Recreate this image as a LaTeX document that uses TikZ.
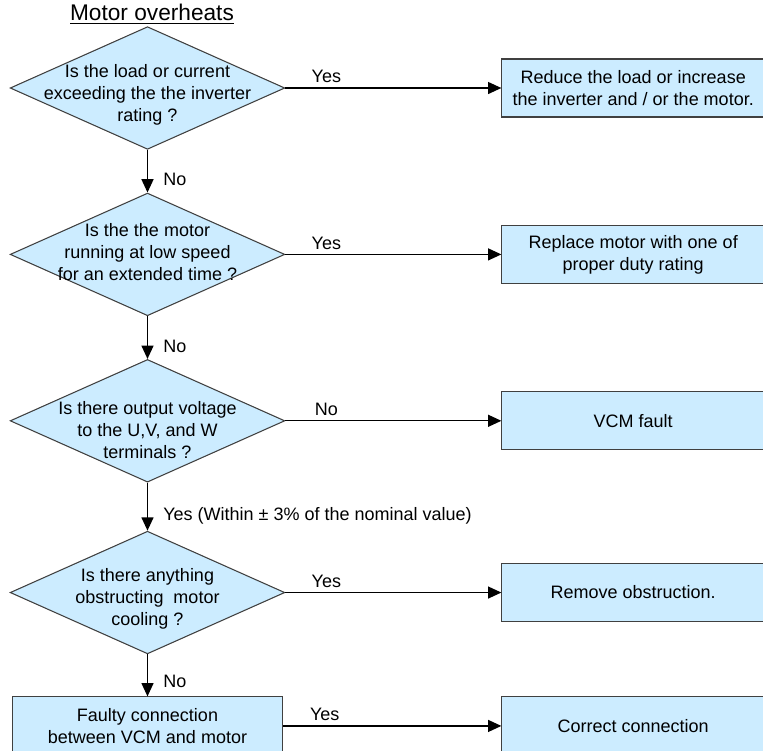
\documentclass[tikz,border=0pt]{standalone}
\usepackage{fontspec}
\setmainfont{Liberation Sans}
\usetikzlibrary{arrows.meta,positioning,shapes.geometric}
\definecolor{boxblue}{HTML}{CCECFF}

\begin{document}
\begin{tikzpicture}[
  x=0.75pt, y=-0.75pt,
  node distance=32pt and 162pt,
  font=\fontsize{13.5}{16.5}\selectfont,
  decision/.style={draw=black!75, fill=boxblue, diamond, inner sep=0pt, minimum width=206pt, minimum height=92pt, line width=0.8pt},
  qtext/.style={align=center, yshift=-4.5pt},
  box/.style={draw=black!75, fill=boxblue, align=center, inner sep=3pt, minimum width=197pt, minimum height=43.5pt, line width=0.8pt},
  down/.style={right, xshift=8pt, pos=0.7},
  side/.style={above, pos=0.19},
  >={Triangle[length=10pt,width=9pt]}
]
\useasboundingbox (0,0) rectangle (763,750);
\clip (0,0) rectangle (763,750);

\node[font=\fontsize{17}{20}\selectfont] (title) at (152,14) {\underline{Motor overheats}};

% questions
\node[decision] (q1) at (147.5,88) {};
\node[qtext, yshift=-1pt] (q1t) at (q1) {Is the load or current\\exceeding the the inverter\\rating ?};
\node[decision, below=of q1] (q2) {};
\node[qtext, yshift=6pt] (q2t) at (q2) {Is the the motor\\running at low speed\\for an extended time ?};
\node[decision, below=of q2] (q3) {};
\node[qtext, yshift=-2.5pt] (q3t) at (q3) {Is there output voltage\\to the U,V, and W\\terminals ?};
\node[decision, below=36pt of q3] (q4) {};
\node[qtext] (q4t) at (q4) {Is there anything\\obstructing\ \ motor\\cooling ?};
\node[box, below=31.5pt of q4, minimum width=203pt] (fault) {Faulty connection\\between VCM and motor};

% actions
\node[box, right=of q1] (a1) {Reduce the load or increase\\the inverter and / or the motor.};
\node[box, right=of q2] (a2) {Replace motor with one of\\proper duty rating};
\node[box, right=of q3] (a3) {VCM fault};
\node[box, right=of q4] (a4) {Remove obstruction.};
\node[box, right=163.5pt of fault] (a5) {Correct connection};

\begin{scope}[line width=1pt]
\draw[->] (q1) -- node[down] (n1) {No} (q2);
\draw[->] (q2) -- node[down] (n2) {No} (q3);
\draw[->] (q3) -- node[down] (n3) {Yes (Within ± 3\% of the nominal value)} (q4);
\draw[->] (q4) -- node[down, pos=0.65] (n4) {No} (fault);
\draw[->] (q1) -- node[side] (y1) {Yes} (a1);
\draw[->] (q2) -- node[side] (y2) {Yes} (a2);
\draw[->] (q3) -- node[side] (y3) {No} (a3);
\draw[->] (q4) -- node[side] (y4) {Yes} (a4);
\draw[->] (fault) -- node[side] (y5) {Yes} (a5);
\end{scope}
\end{tikzpicture}
\end{document}
